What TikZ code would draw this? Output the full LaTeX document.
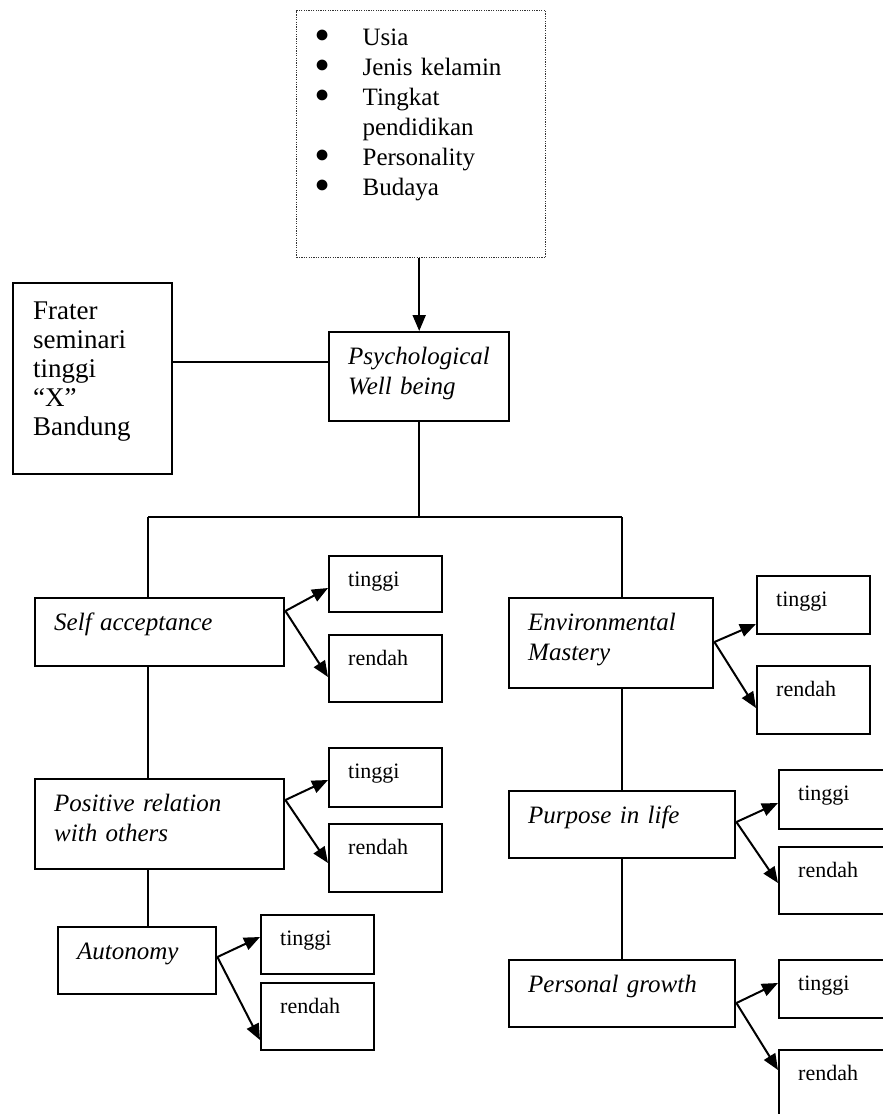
\documentclass[tikz,border=0pt]{standalone}
\usepackage{fontspec}
\setmainfont{Liberation Serif}
\usepackage{tikz}
\usetikzlibrary{arrows.meta,calc,positioning}

\newcommand{\butir}{\makebox[46pt][l]{\hspace*{-2pt}\raisebox{3.5pt}{●}}}

\tikzset{
  box/.style={draw, line width=2.4pt, anchor=north west, inner xsep=19pt, inner ysep=0pt, align=left},
  bigbox/.style={box, font=\fontsize{25}{30}\selectfont\itshape, text height=32pt},
  levelbox/.style={box, font=\fontsize{22}{26}\selectfont, text width=75pt, text height=30pt},
  conn/.style={line width=2pt},
  arr/.style={line width=2pt, -{Triangle[length=16pt,width=13pt]}},
}

\begin{document}
\begin{tikzpicture}[x=1pt,y=-1pt]
\useasboundingbox (0,0) rectangle (883,1114);
\clip (0,0) rectangle (883,1114);
% faktor-faktor
\node[box, draw=black!80, line width=1.2pt, dash pattern=on 1.2pt off 1.2pt, font=\fontsize{25}{30}\selectfont, inner xsep=20pt, text width=209pt, text height=35pt, text depth=212pt] (faktor) at (296,10) {\butir Usia\\\butir Jenis kelamin\\\butir Tingkat\\\hspace*{46pt}pendidikan\\\butir Personality\\\butir Budaya};
\node[box, font=\fontsize{27}{29}\selectfont, inner xsep=20pt, text width=119pt, text height=36pt, text depth=155pt] (frater) at (12,282) {Frater\\seminari\\tinggi\\“X”\\Bandung};
\node[bigbox, text width=142pt, text depth=57pt] (pwb) at (328,331) {Psychological\\Well being};
% dimensi kiri
\node[bigbox, text width=211pt, text depth=36pt] (self) at (34,597) {Self acceptance};
\node[bigbox, text width=211pt, text depth=58pt] (posrel) at (34,778) {Positive relation\\with others};
\node[bigbox, text width=120pt, text depth=35pt] (auto) at (57,926) {Autonomy};
% dimensi kanan
\node[bigbox, text width=166pt, text depth=58pt] (env) at (508,597) {Environmental\\Mastery};
\node[bigbox, text width=188pt, text depth=35pt] (purpose) at (508,790) {Purpose in life};
\node[bigbox, text width=188pt, text depth=35pt] (growth) at (508,959) {Personal growth};
% tinggi / rendah
\node[levelbox, text depth=26pt] (t1) at (328,555) {tinggi};
\node[levelbox, text depth=37pt] (r1) at (328,634) {rendah};
\node[levelbox, text depth=29pt] (t2) at (328,747) {tinggi};
\node[levelbox, text depth=38pt] (r2) at (328,823) {rendah};
\node[levelbox, text depth=29pt] (t3) at (260,914) {tinggi};
\node[levelbox, text depth=37pt] (r3) at (260,982) {rendah};
\node[levelbox, text depth=28pt] (t4) at (756,575) {tinggi};
\node[levelbox, text depth=38pt] (r4) at (756,665) {rendah};
\node[levelbox, text depth=29pt] (t5) at (778,769) {tinggi};
\node[levelbox, text depth=37pt] (r5) at (778,846) {rendah};
\node[levelbox, text depth=28pt] (t6) at (778,959) {tinggi};
\node[levelbox, text depth=42pt] (r6) at (778,1049) {rendah};
% garis
\draw[arr] (faktor.south -| pwb.north) -- (pwb.north);
\coordinate (fr) at ($(frater.north east)+(0,80)$);
\draw[conn] (fr) -- (fr -| pwb.west);
\coordinate (bl) at (148,517);
\coordinate (br) at (622,517);
\draw[conn] (pwb.south) -- (pwb.south |- bl);
\draw[conn] (bl) -- (br);
\draw[conn] (bl) -- (bl |- self.north);
\draw[conn] (br) -- (br |- env.north);
\draw[conn] (bl |- self.south) -- (bl |- posrel.north);
\draw[conn] (bl |- posrel.south) -- (bl |- auto.north);
\draw[conn] (br |- env.south) -- (br |- purpose.north);
\draw[conn] (br |- purpose.south) -- (br |- growth.north);
% panah
\draw[arr] ($(self.north east)+(0,14)$) -- ($(t1.north west)+(0,33)$);
\draw[arr] ($(self.north east)+(0,14)$) -- ($(r1.north west)+(0,43)$);
\draw[arr] ($(posrel.north east)+(0,22)$) -- ($(t2.north west)+(0,33)$);
\draw[arr] ($(posrel.north east)+(0,22)$) -- ($(r2.north west)+(0,40)$);
\draw[arr] ($(auto.north east)+(0,31)$) -- ($(t3.north west)+(0,23)$);
\draw[arr] ($(auto.north east)+(0,31)$) -- ($(r3.north west)+(0,58)$);
\draw[arr] ($(env.north east)+(0,45)$) -- ($(t4.north west)+(0,49)$);
\draw[arr] ($(env.north east)+(0,45)$) -- ($(r4.north west)+(0,43)$);
\draw[arr] ($(purpose.north east)+(0,32)$) -- ($(t5.north west)+(0,34)$);
\draw[arr] ($(purpose.north east)+(0,32)$) -- ($(r5.north west)+(0,37)$);
\draw[arr] ($(growth.north east)+(0,44)$) -- ($(t6.north west)+(0,24)$);
\draw[arr] ($(growth.north east)+(0,44)$) -- ($(r6.north west)+(0,21)$);
\end{tikzpicture}
\end{document}
